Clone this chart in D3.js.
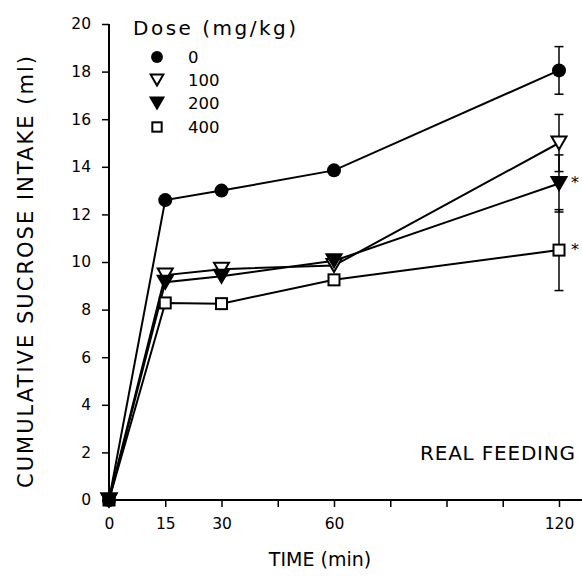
<!DOCTYPE html>
<html>
<head>
<meta charset="utf-8">
<script src="https://cdn.jsdelivr.net/npm/d3@7"></script>
<style>
  html, body { margin: 0; padding: 0; background: #fff; }
  svg { display: block; }
  text { font-family: "DejaVu Sans", sans-serif; fill: #000; }
</style>
</head>
<body>
<div id="chart"></div>
<script>
// ---- data ----
const times = [0, 15, 30, 60, 120];
const doses = ["0", "100", "200", "400"];
const dose0   = [0, 12.6, 13.0, 13.85, 18.05];
const dose100 = [0, 9.45, 9.7, 9.85, 15.0];
const dose200 = [0, 9.15, 9.4, 10.05, 13.3];
const dose400 = [0, 8.28, 8.25, 9.25, 10.5];
const sem120  = [1.0, 1.2, 1.2, 1.7];
const significant = [false, false, true, true];
const xTickValues = [0, 15, 30, 45, 60, 75, 90, 105, 120];
const xTickLabels = [0, 15, 30, 60, 120];
const yTickValues = [0, 2, 4, 6, 8, 10, 12, 14, 16, 18, 20];

const seriesValues = [dose0, dose100, dose200, dose400];
const markerTypes = ["circle", "openTri", "filledTri", "openSquare"];
const drawOrder = [3, 1, 2, 0];

const W = 582, H = 581;
const svg = d3.select("#chart").append("svg").attr("width", W).attr("height", H);

const x = d3.scaleLinear().domain([0, 120]).range([109, 559]);
const y = d3.scaleLinear().domain([0, 20]).range([500, 24]);

// ---- axes ----
const xAxis = svg.append("g").attr("transform", `translate(0,${y(0)})`)
  .call(d3.axisBottom(x).tickValues(xTickValues).tickSize(7)
        .tickFormat(d => xTickLabels.includes(d) ? d : ""));
xAxis.select(".domain").remove();
xAxis.selectAll(".tick line").attr("stroke", "#000").attr("stroke-width", 1.5);
xAxis.selectAll(".tick text").attr("font-size", 15.5).attr("dy", "1.25em")
  .attr("font-family", "DejaVu Sans").attr("fill", "#000");
svg.append("line").attr("x1", x(0) - 1).attr("x2", W).attr("y1", y(0)).attr("y2", y(0))
  .attr("stroke", "#000").attr("stroke-width", 2);

const yAxis = svg.append("g").attr("transform", `translate(${x(0)},0)`)
  .call(d3.axisLeft(y).tickValues(yTickValues).tickSize(7).tickPadding(11));
yAxis.select(".domain").remove();
yAxis.selectAll(".tick line").attr("stroke", "#000").attr("stroke-width", 1.5);
yAxis.selectAll(".tick text").attr("font-size", 15.5)
  .attr("font-family", "DejaVu Sans").attr("fill", "#000");
svg.append("line").attr("x1", x(0)).attr("x2", x(0)).attr("y1", y(20)).attr("y2", y(0) + 1)
  .attr("stroke", "#000").attr("stroke-width", 2);

// ---- titles ----
svg.append("text").attr("x", 320).attr("y", 566).attr("text-anchor", "middle")
  .attr("font-size", 19).text("TIME (min)");
svg.append("text").attr("transform", "translate(33,272) rotate(-90)")
  .attr("text-anchor", "middle").attr("font-size", 21)
  .attr("textLength", 432).attr("lengthAdjust", "spacing")
  .text("CUMULATIVE SUCROSE INTAKE (ml)");
svg.append("text").attr("x", 420).attr("y", 460).attr("font-size", 20)
  .attr("letter-spacing", 0.8).text("REAL FEEDING");

// ---- markers ----
function drawMarker(g, type, cx, cy, s) {
  if (type === "circle") {
    g.append("circle").attr("cx", cx).attr("cy", cy).attr("r", 7 * s).attr("fill", "#000");
  } else if (type === "openTri" || type === "filledTri") {
    const w = 7.5 * s, h = 6.5 * s;
    const pts = [[cx - w, cy - h], [cx + w, cy - h], [cx, cy + h]];
    g.append("polygon").attr("points", pts.map(p => p.join(",")).join(" "))
      .attr("fill", type === "filledTri" ? "#000" : "#fff")
      .attr("stroke", "#000").attr("stroke-width", 2).attr("stroke-linejoin", "miter");
  } else {
    const a = 5.5 * s;
    g.append("rect").attr("x", cx - a).attr("y", cy - a).attr("width", 2 * a).attr("height", 2 * a)
      .attr("fill", "#fff").attr("stroke", "#000").attr("stroke-width", 2);
  }
}

// ---- error bars at 120 ----
const eg = svg.append("g");
seriesValues.forEach((vals, i) => {
  const v = vals[vals.length - 1], e = sem120[i];
  const cx = x(120);
  eg.append("line").attr("x1", cx).attr("x2", cx).attr("y1", y(v + e)).attr("y2", y(v - e))
    .attr("stroke", "#000").attr("stroke-width", 1.5);
  [v + e, v - e].forEach(t => {
    eg.append("line").attr("x1", cx - 4.5).attr("x2", cx + 4.5).attr("y1", y(t)).attr("y2", y(t))
      .attr("stroke", "#000").attr("stroke-width", 1.5);
  });
});

// ---- lines ----
const line = d3.line().x((d, i) => x(times[i])).y(d => y(d));
seriesValues.forEach(vals => {
  svg.append("path").attr("d", line(vals)).attr("fill", "none")
    .attr("stroke", "#000").attr("stroke-width", 2);
});

// ---- points ----
const mg = svg.append("g");
drawOrder.forEach(i => {
  seriesValues[i].forEach((v, j) => drawMarker(mg, markerTypes[i], x(times[j]), y(v), 1));
});

// ---- significance stars ----
seriesValues.forEach((vals, i) => {
  if (!significant[i]) return;
  svg.append("text").attr("x", x(120) + 12).attr("y", y(vals[vals.length - 1]) + 5)
    .attr("font-size", 16).text("*");
});

// ---- legend ----
svg.append("text").attr("x", 133).attr("y", 35).attr("font-size", 20)
  .attr("textLength", 163).attr("lengthAdjust", "spacing").text("Dose (mg/kg)");
const legendY = [57, 80, 103, 127];
doses.forEach((d, i) => {
  drawMarker(svg, markerTypes[i], 157, legendY[i], 0.85);
  svg.append("text").attr("x", 188).attr("y", legendY[i] + 6).attr("font-size", 16.5).text(d);
});
</script>
</body>
</html>
